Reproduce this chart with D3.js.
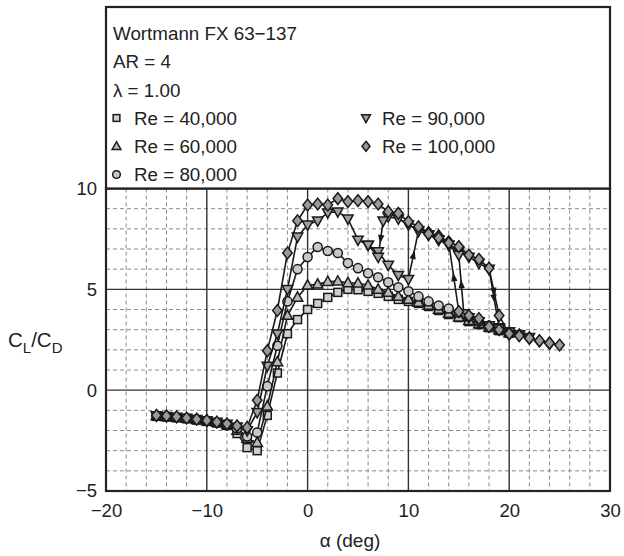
<!DOCTYPE html>
<html>
<head>
<meta charset="utf-8">
<script src="https://cdn.jsdelivr.net/npm/d3@7"></script>
<style>
  html, body { margin: 0; padding: 0; background: #fff; }
  svg { display: block; }
  text { font-family: "Liberation Sans", Arial, Helvetica, sans-serif; fill: #222; }
</style>
</head>
<body>
<svg id="chart" width="624" height="556"></svg>
<script>
// Lift-to-drag ratio sweeps, Wortmann FX 63-137 wing, AR = 4
const titleLines = ["Wortmann FX 63\u2212137", "AR = 4", "\u03bb = 1.00"];

const xTicks = [-20, -10, 0, 10, 20, 30];
const yTicks = [-5, 0, 5, 10];

// Re = 40,000 (squares)
const re40Alpha = [-15,-14,-13,-12,-11,-10,-9,-8,-7,-6,-5,-4,-3,-2,-1,0,1,2,3,4,5,6,7,8,9,10,11,12,13,14,15,16,17,18,19,20];
const re40Ratio = [-1.30,-1.33,-1.37,-1.42,-1.48,-1.55,-1.63,-1.75,-2.15,-2.85,-3.00,-1.25,0.85,2.80,3.50,4.00,4.30,4.60,4.85,5.00,4.98,4.90,4.80,4.65,4.50,4.40,4.30,4.15,3.95,3.75,3.60,3.40,3.25,3.10,2.95,2.82];

// Re = 60,000 (up triangles)
const re60Alpha = [-15,-14,-13,-12,-11,-10,-9,-8,-7,-6,-5,-4,-3,-2,-1,0,1,2,3,4,5,6,7,8,9,10,11,12,13,14,15,16,17,18,19,20];
const re60Ratio = [-1.28,-1.31,-1.35,-1.40,-1.46,-1.53,-1.60,-1.72,-2.00,-2.40,-2.60,-0.80,1.40,3.70,4.60,5.20,5.25,5.38,5.40,5.32,5.30,5.20,5.00,4.85,4.65,4.50,4.35,4.20,4.00,3.80,3.62,3.45,3.28,3.12,2.98,2.84];

// Re = 80,000 (circles)
const re80Alpha = [-15,-14,-13,-12,-11,-10,-9,-8,-7,-6,-5,-4,-3,-2,-1,0,1,2,3,4,5,6,7,8,9,10,11,12,13,14,15,16,17,18,19,20];
const re80Ratio = [-1.27,-1.30,-1.34,-1.39,-1.45,-1.52,-1.59,-1.70,-1.90,-2.30,-2.10,0.20,2.20,4.40,6.00,6.60,7.10,6.90,6.80,6.30,6.05,5.80,5.60,5.35,5.10,4.90,4.65,4.40,4.20,4.05,3.85,3.65,3.40,3.20,3.00,2.85];

// Re = 90,000 (down triangles): increasing sweep, then decreasing sweep
const re90Alpha = [-15,-14,-13,-12,-11,-10,-9,-8,-7,-6,-5,-4,-3,-2,-1,0,1,2,3,4,5,6,7,8,9,10,11,12,13,14,15,16,17,18,19,20,21,22,
                   21,20,19,18,17,16,15.5,15,14,13,12,11,10,9,8,7.5,7,6];
const re90Ratio = [-1.26,-1.29,-1.33,-1.38,-1.44,-1.51,-1.58,-1.68,-1.82,-2.00,-1.10,1.20,2.80,5.00,7.60,8.20,8.40,8.80,8.85,8.50,7.45,7.20,6.87,6.20,5.70,5.50,7.90,7.70,7.45,7.20,6.90,6.60,6.30,6.00,3.10,2.90,2.75,2.62,
                   2.75,2.90,3.05,3.20,3.40,3.60,3.80,6.70,7.20,7.45,7.70,7.90,8.20,8.50,8.60,8.40,6.60,7.20];

// Re = 100,000 (diamonds): increasing sweep, then decreasing sweep
const re100Alpha = [-15,-14,-13,-12,-11,-10,-9,-8,-7,-6,-5,-4,-3,-2,-1,0,1,2,3,4,5,6,7,8,9,10,11,12,13,14,15,16,17,18,19,20,21,22,23,24,25,
                    24,23,22,21,20,19,18,17,16,15,14,13,12];
const re100Ratio = [-1.25,-1.28,-1.32,-1.38,-1.44,-1.50,-1.58,-1.67,-1.77,-1.85,-0.50,1.95,3.95,6.80,8.40,9.18,9.23,9.18,9.50,9.35,9.40,9.35,9.23,8.85,8.77,8.36,8.10,7.81,7.65,7.36,7.12,6.70,6.49,6.05,3.70,2.79,2.74,2.58,2.44,2.33,2.24,
                    2.33,2.45,2.58,2.70,2.80,3.00,3.15,3.55,3.70,3.90,7.30,7.55,7.75];

// Jumps across the hysteresis loops, as [series, alpha from, alpha to]
const jumpArrows = [
  ["90k", 10, 11], ["90k", 18, 19], ["90k", 15.5, 15], ["90k", 7.5, 7],
  ["100k", 18, 19], ["100k", 15, 14]
];

const legendLabels = ["Re = 40,000", "Re = 60,000", "Re = 80,000", "Re = 90,000", "Re = 100,000"];

const series = [
  { key: "40k",  alpha: re40Alpha,  ratio: re40Ratio,  shape: "square",   fill: "#cfcfcf" },
  { key: "60k",  alpha: re60Alpha,  ratio: re60Ratio,  shape: "triUp",    fill: "#b8b8b8" },
  { key: "80k",  alpha: re80Alpha,  ratio: re80Ratio,  shape: "circle",   fill: "#c8c8c8" },
  { key: "90k",  alpha: re90Alpha,  ratio: re90Ratio,  shape: "triDown",  fill: "#a0a0a0" },
  { key: "100k", alpha: re100Alpha, ratio: re100Ratio, shape: "diamond",  fill: "#9a9a9a" }
];

const svg = d3.select("#chart");
const plot = { left: 106, right: 610, top: 188.5, bottom: 491, boxTop: 7 };

const x = d3.scaleLinear().domain([-20, 30]).range([plot.left, plot.right]);
const y = d3.scaleLinear().domain([-5, 10]).range([plot.bottom, plot.top]);

// Grid: dashed minor lines, solid major lines
const gx = svg.append("g");
d3.range(-20, 30.001, 2).filter(v => v % 10 !== 0).forEach(v => {
  gx.append("line").attr("x1", x(v)).attr("x2", x(v)).attr("y1", plot.top).attr("y2", plot.bottom)
    .attr("stroke", "#8a8a8a").attr("stroke-width", 1).attr("stroke-dasharray", "4,3");
});
d3.range(-5, 10.001, 1).filter(v => v % 5 !== 0).forEach(v => {
  gx.append("line").attr("x1", plot.left).attr("x2", plot.right).attr("y1", y(v)).attr("y2", y(v))
    .attr("stroke", "#8a8a8a").attr("stroke-width", 1).attr("stroke-dasharray", "4,3");
});
xTicks.slice(1, -1).forEach(v => {
  gx.append("line").attr("x1", x(v)).attr("x2", x(v)).attr("y1", plot.top).attr("y2", plot.bottom)
    .attr("stroke", "#333").attr("stroke-width", 1.4);
});
yTicks.slice(1, -1).forEach(v => {
  gx.append("line").attr("x1", plot.left).attr("x2", plot.right).attr("y1", y(v)).attr("y2", y(v))
    .attr("stroke", "#333").attr("stroke-width", 1.4);
});

// Axes (labels only; the frame is drawn separately)
const xAxis = d3.axisBottom(x).tickValues(xTicks).tickSize(0).tickPadding(0)
  .tickFormat(d => d < 0 ? "\u2212" + Math.abs(d) : String(d));
svg.append("g").attr("transform", `translate(0,${plot.bottom})`).call(xAxis)
  .call(g => g.select(".domain").remove())
  .selectAll("text").attr("y", 13).attr("dy", "0.71em").attr("font-size", 18.5)
  .attr("font-family", "'Liberation Sans', Arial, sans-serif").attr("fill", "#222");

const yAxis = d3.axisLeft(y).tickValues(yTicks).tickSize(0).tickPadding(9)
  .tickFormat(d => d < 0 ? "\u2212" + Math.abs(d) : String(d));
svg.append("g").attr("transform", `translate(${plot.left},0)`).call(yAxis)
  .call(g => g.select(".domain").remove())
  .selectAll("text").attr("font-size", 18.5)
  .attr("font-family", "'Liberation Sans', Arial, sans-serif").attr("fill", "#222");

// Axis titles
svg.append("text").attr("x", 350).attr("y", 547).attr("text-anchor", "middle")
  .attr("font-size", 19).text("\u03b1 (deg)");
const yl = svg.append("text").attr("x", 8).attr("y", 347).attr("font-size", 20.5);
yl.append("tspan").text("C");
yl.append("tspan").attr("font-size", 15).attr("dy", 6).text("L");
yl.append("tspan").attr("dy", -6).text("/C");
yl.append("tspan").attr("font-size", 15).attr("dy", 6).text("D");

// Marker shapes
function marker(sel, shape, fill, s) {
  const st = "#1a1a1a", sw = 1.5;
  let p;
  if (shape === "square") {
    p = sel.append("rect").attr("x", -s * 0.42).attr("y", -s * 0.42).attr("width", s * 0.84).attr("height", s * 0.84);
  } else if (shape === "circle") {
    p = sel.append("circle").attr("r", s * 0.48);
  } else if (shape === "triUp") {
    p = sel.append("path").attr("d", `M0,${-s*0.58}L${s*0.55},${s*0.4}L${-s*0.55},${s*0.4}Z`);
  } else if (shape === "triDown") {
    p = sel.append("path").attr("d", `M0,${s*0.58}L${s*0.55},${-s*0.4}L${-s*0.55},${-s*0.4}Z`);
  } else {
    p = sel.append("path").attr("d", `M0,${-s*0.62}L${s*0.5},0L0,${s*0.62}L${-s*0.5},0Z`);
  }
  p.attr("fill", fill).attr("stroke", st).attr("stroke-width", sw);
}

const line = d3.line().x(d => x(d[0])).y(d => y(d[1]));

series.forEach(s => {
  const pts = s.alpha.map((a, i) => [a, s.ratio[i]]);
  const g = svg.append("g");
  g.append("path").attr("d", line(pts)).attr("fill", "none")
    .attr("stroke", "#1a1a1a").attr("stroke-width", 1.6);
  pts.forEach(p => {
    const m = g.append("g").attr("transform", `translate(${x(p[0])},${y(p[1])})`);
    marker(m, s.shape, s.fill, 9.5);
  });
});

// Arrowheads on the jump segments
jumpArrows.forEach(([key, a0, a1]) => {
  const s = series.find(d => d.key === key);
  let i0 = -1;
  for (let i = 0; i < s.alpha.length - 1; i++) {
    if (s.alpha[i] === a0 && s.alpha[i + 1] === a1) { i0 = i; break; }
  }
  if (i0 < 0) return;
  const px0 = x(s.alpha[i0]), py0 = y(s.ratio[i0]);
  const px1 = x(s.alpha[i0 + 1]), py1 = y(s.ratio[i0 + 1]);
  const mx = (px0 + px1) / 2, my = (py0 + py1) / 2;
  const ang = Math.atan2(py1 - py0, px1 - px0) * 180 / Math.PI;
  svg.append("path").attr("d", "M5,0L-4,-3.2L-4,3.2Z")
    .attr("transform", `translate(${mx},${my}) rotate(${ang})`)
    .attr("fill", "#1a1a1a");
});

// Frames: plot area and the box above it holding the legend
svg.append("rect").attr("x", plot.left).attr("y", plot.top)
  .attr("width", plot.right - plot.left).attr("height", plot.bottom - plot.top)
  .attr("fill", "none").attr("stroke", "#222").attr("stroke-width", 2.2);
svg.append("rect").attr("x", plot.left).attr("y", plot.boxTop)
  .attr("width", plot.right - plot.left).attr("height", plot.top - plot.boxTop)
  .attr("fill", "#fff").attr("stroke", "#222").attr("stroke-width", 2.2);

// Title block and legend
const fs = 18.8;
titleLines.forEach((t, i) => {
  svg.append("text").attr("x", 113).attr("y", 40 + i * 28.3).attr("font-size", fs).text(t);
});
const legendPos = [
  [116.5, 134, 124.5], [116.5, 134, 152.8], [116.5, 134, 181],
  [366, 382, 124.5], [366, 382, 152.8]
];
series.forEach((s, i) => {
  const [mx, tx, by] = legendPos[i];
  const m = svg.append("g").attr("transform", `translate(${mx},${by - 6.5})`);
  marker(m, s.shape, s.fill, 8);
  svg.append("text").attr("x", tx).attr("y", by).attr("font-size", fs).text(legendLabels[i]);
});
</script>
</body>
</html>
